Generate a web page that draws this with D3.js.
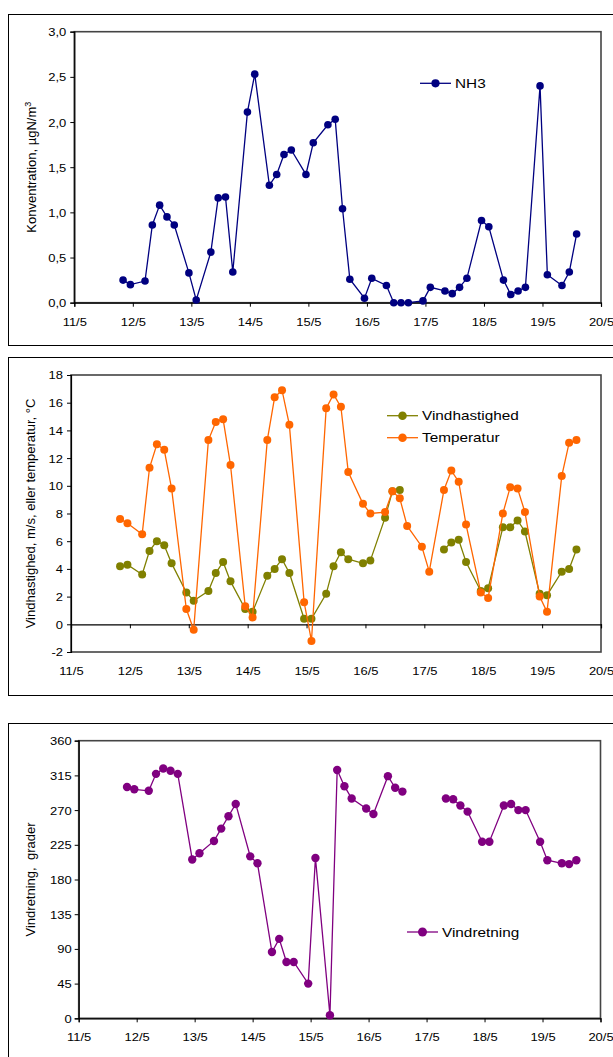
<!DOCTYPE html>
<html>
<head>
<meta charset="utf-8">
<script src="https://cdn.jsdelivr.net/npm/d3@7"></script>
<style>
body { margin: 0; background: #fff; }
svg text { font-family: "Liberation Sans", Arial, sans-serif; fill: #000; }
</style>
</head>
<body>
<script>
// maaletidspunkter, timer efter 11/5 kl. 00
var tid = [20,23,29,32,35,38,41,47,50,56,59,62,65,71,74,80,83,86,89,95,98,104,107,110,
           113,119,122,128,131,134,137,143,146,152,155,158,161,167,170,176,179,182,185,191,194,200,203,206];

var nh3 = [0.25,0.20,0.24,0.86,1.08,0.95,0.86,0.33,0.03,0.56,1.16,1.17,0.34,2.11,2.53,1.30,1.42,1.64,1.69,1.42,1.77,1.97,2.03,1.04,
           0.26,0.05,0.27,0.19,0.00,0.00,0.00,0.02,0.17,0.13,0.10,0.17,0.27,0.91,0.84,0.25,0.09,0.13,0.17,2.40,0.31,0.19,0.34,0.76];

var vindhast = [4.2,4.3,3.6,5.3,6.0,5.7,4.4,2.3,1.7,2.4,3.7,4.5,3.1,1.1,0.9,3.5,4.0,4.7,3.7,0.4,0.4,2.2,4.2,5.2,
                4.7,4.4,4.6,7.7,9.6,9.7,null,null,null,5.4,5.9,6.1,4.5,2.4,2.6,7.0,7.0,7.5,6.7,2.2,2.1,3.8,4.0,5.4];

var temperatur = [7.6,7.3,6.5,11.3,13.0,12.6,9.8,1.1,-0.4,13.3,14.6,14.8,11.5,1.3,0.5,13.3,16.4,16.9,14.4,1.6,-1.2,15.6,16.6,15.7,
                  11.0,8.7,8.0,8.1,9.6,9.1,7.1,5.6,3.8,9.7,11.1,10.3,7.2,2.3,1.9,8.0,9.9,9.8,8.1,2.0,0.9,10.7,13.1,13.3];

var vindretning = [300,297,295,317,324,321,317,206,214,230,246,262,278,210,201,86,103,73,73,45,208,4,322,301,
                   285,272,265,314,299,294,null,null,null,285,284,276,268,229,229,276,278,270,270,229,205,201,200,205];

var dage = ["11/5","12/5","13/5","14/5","15/5","16/5","17/5","18/5","19/5","20/5"];

var width = 613, height = 1057;
var strek = 1.18; // teksten er strakt lidt i bredden

var svg = d3.select("body").append("svg")
    .attr("width", width)
    .attr("height", height);

// dansk talformat: komma som decimaltegn og almindelig bindestreg som minus
function fmt(f) {
    return function(d) { return d3.format(f)(d).replace(".", ",").replace("\u2212", "-"); };
}

function tegnPanel(p) {
    var g = svg.append("g");

    // ramme om hele diagrammet
    g.append("rect")
        .attr("x", 8.5).attr("y", p.frame[0] + 0.5)
        .attr("width", 640).attr("height", p.frame[1] - p.frame[0])
        .attr("fill", "none").attr("stroke", "#000").attr("stroke-width", 1);

    var x = d3.scaleLinear().domain([0, 216]).range([p.l, p.r]);
    var y = d3.scaleLinear().domain(p.ydom).range([p.b, p.t]);

    // plotomraade
    g.append("rect")
        .attr("x", p.l).attr("y", p.t)
        .attr("width", p.r - p.l).attr("height", p.b - p.t)
        .attr("fill", "none").attr("stroke", "#444").attr("stroke-width", 1.6);

    // y-akse
    var ya = g.append("g")
        .attr("transform", "translate(" + p.l + ",0)")
        .call(d3.axisLeft(y).tickValues(p.yticks).tickFormat(p.yfmt).tickSizeOuter(0).tickSize(4));
    ya.select(".domain").attr("stroke", "#000").attr("stroke-width", 1.2);
    ya.selectAll("text")
        .attr("x", 0).attr("dy", "0.36em")
        .attr("transform", "translate(-" + p.ypad + ",0) scale(" + strek + ",1)")
        .style("font-size", "11px");

    // x-akse (ved nul-linjen hvis der er negative vaerdier)
    var y0 = p.ydom[0] < 0 ? y(0) : p.b;
    var xa = g.append("g")
        .attr("transform", "translate(0," + y0 + ")")
        .call(d3.axisBottom(x).tickValues(d3.range(0, 217, 24)).tickFormat("").tickSizeOuter(0).tickSize(4));
    xa.select(".domain").attr("stroke", "#000").attr("stroke-width", 1.2);

    var xl = g.append("g")
        .attr("transform", "translate(0," + p.b + ")")
        .call(d3.axisBottom(x).tickValues(d3.range(0, 217, 24))
              .tickFormat(function(d, i) { return dage[i]; }).tickSize(0).tickPadding(15));
    xl.select(".domain").remove();
    xl.selectAll("text")
        .attr("x", 0)
        .attr("transform", "scale(" + strek + ",1)")
        .style("font-size", "11px");

    // y-aksetitel
    var tt = g.append("text")
        .attr("transform", "translate(" + p.tx + "," + (p.t + p.b) / 2 + ") rotate(-90)")
        .attr("text-anchor", "middle")
        .attr("dy", "0.36em")
        .style("font-size", "13px")
        .style("white-space", "pre");
    tt.append("tspan").text(p.titel);
    if (p.sup) {
        tt.append("tspan").attr("dy", "-0.5em").style("font-size", "9px").text(p.sup);
    }

    // dataserier
    p.serier.forEach(function(s) {
        var pts = tid.map(function(t, i) { return [t, s.v[i]]; });
        var line = d3.line()
            .defined(function(d) { return d[1] != null; })
            .x(function(d) { return x(d[0]); })
            .y(function(d) { return y(d[1]); });
        g.append("path")
            .datum(pts)
            .attr("d", line)
            .attr("fill", "none")
            .attr("stroke", s.farve)
            .attr("stroke-width", 1.3);
        g.selectAll(null)
            .data(pts.filter(function(d) { return d[1] != null; }))
            .enter().append("circle")
            .attr("cx", function(d) { return x(d[0]); })
            .attr("cy", function(d) { return y(d[1]); })
            .attr("r", p.r0)
            .attr("fill", s.farve);
    });

    // signaturforklaring
    p.serier.forEach(function(s, i) {
        var ly = p.leg[1] + i * 22;
        g.append("line")
            .attr("x1", p.leg[0]).attr("x2", p.leg[0] + 31)
            .attr("y1", ly).attr("y2", ly)
            .attr("stroke", s.farve).attr("stroke-width", 1.3);
        g.append("circle")
            .attr("cx", p.leg[0] + 15.5).attr("cy", ly).attr("r", p.r0 + 0.3)
            .attr("fill", s.farve);
        g.append("text")
            .attr("transform", "translate(" + (p.leg[0] + 35) + "," + ly + ") scale(" + strek + ",1)")
            .attr("dy", "0.36em")
            .style("font-size", "13px")
            .text(s.navn);
    });
}

tegnPanel({
    frame: [14, 345], l: 74.3, t: 31.7, r: 601, b: 302.7,
    ydom: [0, 3], yticks: d3.range(0, 3.01, 0.5), yfmt: fmt(".1f"), ypad: 8,
    tx: 31, titel: "Konventration, \u00b5gN/m", sup: "3",
    r0: 3.8, leg: [420, 83.3],
    serier: [{ navn: "NH3", v: nh3, farve: "#000080" }]
});

tegnPanel({
    frame: [357, 695], l: 71, t: 375, r: 601, b: 652,
    ydom: [-2, 18], yticks: d3.range(-2, 18.1, 2), yfmt: fmt("d"), ypad: 8,
    tx: 30, titel: "Vindhastighed, m/s, eller temperatur, \u00b0C",
    r0: 4, leg: [387, 415.7],
    serier: [{ navn: "Vindhastighed", v: vindhast, farve: "#808000" },
             { navn: "Temperatur", v: temperatur, farve: "#FF6600" }]
});

tegnPanel({
    frame: [723, 1070], l: 78.7, t: 740.7, r: 600.5, b: 1018.3,
    ydom: [0, 360], yticks: d3.range(0, 361, 45), yfmt: fmt("d"), ypad: 7,
    tx: 30, titel: "Vindretning,  grader",
    r0: 4.2, leg: [407, 932],
    serier: [{ navn: "Vindretning", v: vindretning, farve: "#800080" }]
});
</script>
</body>
</html>
